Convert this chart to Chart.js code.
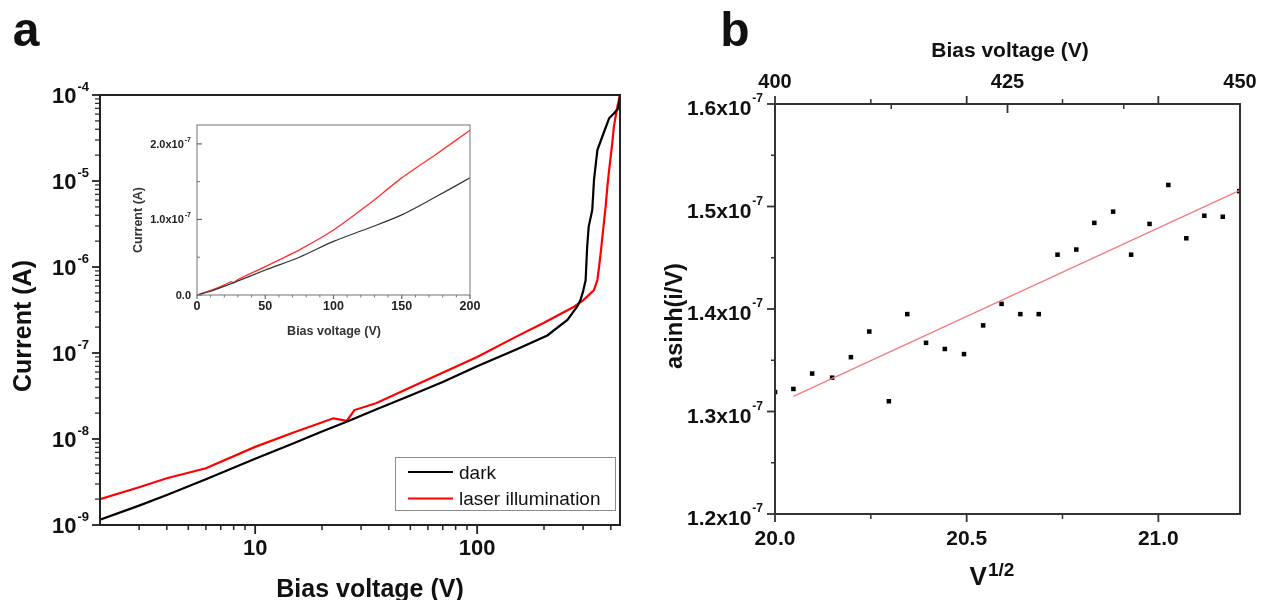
<!DOCTYPE html>
<html><head><meta charset="utf-8">
<script src="https://cdn.jsdelivr.net/npm/chart.js@4.4.0/dist/chart.umd.min.js"></script>
<style>
html,body{margin:0;padding:0;background:#fff;width:1271px;height:600px;overflow:hidden}
canvas{position:absolute;left:0;top:0}
</style></head><body>
<canvas id="ca" width="1271" height="600"></canvas>
<canvas id="ci" width="1271" height="600"></canvas>
<canvas id="cb" width="1271" height="600"></canvas>
<script>
// ---------------- DATA ----------------
// Panel a (log-log)
const darkV  = [2, 3, 4, 6, 10, 15, 20, 26, 35, 50, 70, 100, 150, 207, 255, 282, 292, 300, 308, 313, 318, 330, 336, 348, 366, 393, 413, 433, 440];
const darkI  = [1.15e-9, 1.68e-9, 2.23e-9, 3.4e-9, 5.9e-9, 9.0e-9, 1.22e-8, 1.6e-8, 2.2e-8, 3.2e-8, 4.6e-8, 7.0e-8, 1.1e-7, 1.6e-7, 2.42e-7, 3.45e-7, 4.13e-7, 5.2e-7, 7.0e-7, 1.72e-6, 2.95e-6, 4.6e-6, 1.03e-5, 2.29e-5, 3.27e-5, 5.36e-5, 6.1e-5, 7.0e-5, 1e-4];
const laserV = [2, 3, 4, 6, 10, 15, 22.5, 25.9, 28, 35, 55, 100, 150, 200, 273, 300, 324, 336, 348, 354, 360, 372, 379, 386, 393, 406, 413, 428, 440];
const laserI = [2.0e-9, 2.75e-9, 3.5e-9, 4.56e-9, 8.1e-9, 1.2e-8, 1.74e-8, 1.63e-8, 2.17e-8, 2.6e-8, 4.45e-8, 9.0e-8, 1.55e-7, 2.25e-7, 3.45e-7, 4.1e-7, 4.94e-7, 5.4e-7, 7.06e-7, 1.0e-6, 1.44e-6, 3.2e-6, 5.0e-6, 8.6e-6, 1.34e-5, 2.74e-5, 4.3e-5, 7.3e-5, 1e-4];
const seriesNames = ['dark', 'laser illumination'];
const aXTickValues = [10, 100];
const aXTickLabels = ['10', '100'];
const aXMinorTicks = [3, 4, 5, 6, 7, 8, 9, 20, 30, 40, 50, 60, 70, 80, 90, 200, 300, 400];
const aYTickExps = [-9, -8, -7, -6, -5, -4];
const aYMinorMult = [2, 3, 4, 5, 6, 7, 8, 9];

// Inset (linear)
const insetDarkV  = [0, 10, 25, 50, 75, 100, 125, 150, 175, 200];
const insetDarkI  = [0, 5e-9, 1.5e-8, 3.3e-8, 5.0e-8, 7.1e-8, 8.8e-8, 1.06e-7, 1.3e-7, 1.55e-7];
const insetLaserV = [0, 10, 20, 25, 27, 30, 50, 75, 100, 125, 150, 175, 200];
const insetLaserI = [0, 6e-9, 1.35e-8, 1.77e-8, 1.62e-8, 2.05e-8, 3.76e-8, 5.98e-8, 8.6e-8, 1.19e-7, 1.55e-7, 1.86e-7, 2.18e-7];
const inXTicks = [0, 50, 100, 150, 200];
const inXMinor = [10, 20, 30, 40, 60, 70, 80, 90, 110, 120, 130, 140, 160, 170, 180, 190];
const inYTicks = [0, 1e-7, 2e-7];
const inYTickLabels = [['0.0', ''], ['1.0x10', '-7'], ['2.0x10', '-7']];
const inYMinor = [0.5e-7, 1.5e-7];

// Panel b
const sqrtV  = [20.000, 20.048, 20.097, 20.149, 20.198, 20.246, 20.297, 20.345, 20.394, 20.443, 20.493, 20.543, 20.591, 20.640, 20.688, 20.737, 20.786, 20.833, 20.882, 20.929, 20.977, 21.026, 21.073, 21.120, 21.168, 21.211];
const asinhIV = [1.319e-7, 1.322e-7, 1.337e-7, 1.333e-7, 1.353e-7, 1.378e-7, 1.310e-7, 1.395e-7, 1.367e-7, 1.361e-7, 1.356e-7, 1.384e-7, 1.405e-7, 1.395e-7, 1.395e-7, 1.453e-7, 1.458e-7, 1.484e-7, 1.495e-7, 1.453e-7, 1.483e-7, 1.521e-7, 1.469e-7, 1.491e-7, 1.490e-7, 1.515e-7];
const fitX = [20.048, 21.211];
const fitY = [1.3147e-7, 1.5154e-7];
const bXTicks = [20.0, 20.5, 21.0];
const bXTickLabels = ['20.0', '20.5', '21.0'];
const bXMinor = [20.25, 20.75];
const bTopTicks = [400, 425, 450];
const bTopTickLabels = ['400', '425', '450'];
const bTopMinor = [412.5, 437.5];
const bYTicks = [1.2e-7, 1.3e-7, 1.4e-7, 1.5e-7, 1.6e-7];
const bYTickLabels = ['1.2x10', '1.3x10', '1.4x10', '1.5x10', '1.6x10'];
const bYMinor = [1.25e-7, 1.35e-7, 1.45e-7, 1.55e-7];

// ---------------- HELPERS ----------------
const FF = '"Liberation Sans", Arial, Helvetica, sans-serif';
const fnt = (s, b = true) => (b ? 'bold ' : '') + s + 'px ' + FF;
function ln(ctx, x1, y1, x2, y2, w, c) {
  ctx.beginPath(); ctx.moveTo(x1, y1); ctx.lineTo(x2, y2);
  ctx.lineWidth = w; ctx.strokeStyle = c; ctx.stroke();
}
function txt(ctx, s, x, y, size, align, o = {}) {
  ctx.save();
  ctx.font = fnt(size, o.bold !== false);
  ctx.fillStyle = o.color || '#111';
  ctx.textAlign = align || 'center';
  ctx.textBaseline = 'alphabetic';
  if (o.rotate) { ctx.translate(x, y); ctx.rotate(o.rotate); ctx.fillText(s, 0, 0); }
  else ctx.fillText(s, x, y);
  ctx.restore();
}
// base text + superscript; anchor = right edge (align 'right') or centre
function sup(ctx, base, sp, x, y, size, spSize, rise, align, color) {
  ctx.save();
  ctx.fillStyle = color || '#111';
  ctx.textBaseline = 'alphabetic'; ctx.textAlign = 'left';
  ctx.font = fnt(size); const wb = ctx.measureText(base).width;
  ctx.font = fnt(spSize); const ws = sp ? ctx.measureText(sp).width + 1 : 0;
  const x0 = align === 'center' ? x - (wb + ws) / 2 : x - wb - ws;
  ctx.font = fnt(size); ctx.fillText(base, x0, y);
  if (sp) { ctx.font = fnt(spSize); ctx.fillText(sp, x0 + wb + 1, y - rise); }
  ctx.restore();
}
const fixW = w => function (s) { s.width = w; };
const fixH = h => function (s) { s.height = h; };
const hidden = { ticks: { display: false }, grid: { display: false }, border: { display: false }, title: { display: false } };
const pts = (xs, ys) => xs.map((v, i) => ({ x: v, y: ys[i] }));

// ---------------- PANEL A ----------------
const panelA = {
  id: 'panelA',
  afterDraw(chart) {
    const { ctx, chartArea: a, scales: { x, y } } = chart;
    ctx.save();
    const C = '#222';
    ctx.lineWidth = 2; ctx.strokeStyle = C;
    ctx.strokeRect(a.left, a.top, a.right - a.left, a.bottom - a.top);
    aXMinorTicks.forEach(v => { const p = x.getPixelForValue(v); ln(ctx, p, a.bottom, p, a.bottom + 5, 1.5, C); });
    aXTickValues.forEach((v, i) => {
      const p = x.getPixelForValue(v);
      ln(ctx, p, a.bottom, p, a.bottom + 9, 1.8, C);
      txt(ctx, aXTickLabels[i], p, 555, 22, 'center');
    });
    aYTickExps.forEach(e => {
      const p = y.getPixelForValue(Math.pow(10, e));
      ln(ctx, a.left - 8, p, a.left, p, 1.8, C);
      sup(ctx, '10', String(e), 89, p + 8, 22, 13, 12.5, 'right');
      if (e < -4) aYMinorMult.forEach(m => {
        const q = y.getPixelForValue(m * Math.pow(10, e));
        ln(ctx, a.left - 5, q, a.left, q, 1.2, C);
      });
    });
    // axis titles
    txt(ctx, 'Bias voltage (V)', 370, 597, 25, 'center');
    txt(ctx, 'Current (A)', 31, 326, 25, 'center', { rotate: -Math.PI / 2 });
    txt(ctx, 'a', 26, 46, 48, 'center');
    // legend
    const lx = 395, ly = 457, lw = 220, lh = 53;
    ctx.fillStyle = '#fff'; ctx.fillRect(lx, ly, lw, lh);
    ctx.lineWidth = 1; ctx.strokeStyle = '#8c8c8c'; ctx.strokeRect(lx + 0.5, ly + 0.5, lw, lh);
    chart.data.datasets.forEach((d, i) => {
      const yy = 472 + i * 26.5;
      ln(ctx, 408, yy, 453, yy, 2, d.borderColor);
      txt(ctx, d.label, 459, yy + 6.5, 19, 'left', { bold: false, color: '#111' });
    });
    ctx.restore();
  }
};
new Chart(document.getElementById('ca'), {
  type: 'scatter',
  data: {
    datasets: [
      { label: seriesNames[0], data: pts(darkV, darkI), showLine: true, borderColor: '#000', borderWidth: 2.2, pointRadius: 0, tension: 0 },
      { label: seriesNames[1], data: pts(laserV, laserI), showLine: true, borderColor: '#ff0000', borderWidth: 2.2, pointRadius: 0, tension: 0 }
    ]
  },
  options: {
    responsive: false, animation: false, devicePixelRatio: 1,
    layout: { padding: { top: 95, right: 651, left: 0, bottom: 0 } },
    plugins: { legend: { display: false }, tooltip: { enabled: false } },
    scales: {
      x: Object.assign({ type: 'logarithmic', min: 2, max: 440, position: 'bottom', afterFit: fixH(75) }, hidden),
      y: Object.assign({ type: 'logarithmic', min: 1e-9, max: 1e-4, position: 'left', afterFit: fixW(100) }, hidden)
    }
  },
  plugins: [panelA]
});

// ---------------- INSET ----------------
const inset = {
  id: 'inset',
  afterDraw(chart) {
    const { ctx, chartArea: a, scales: { x, y } } = chart;
    ctx.save();
    const G = '#8a8a8a';
    ctx.lineWidth = 1.2; ctx.strokeStyle = G;
    ctx.strokeRect(a.left, a.top, a.right - a.left, a.bottom - a.top);
    inXMinor.forEach(v => { const p = x.getPixelForValue(v); ln(ctx, p, a.bottom, p, a.bottom + 2.5, 1, '#777'); });
    inXTicks.forEach(v => {
      const p = x.getPixelForValue(v);
      ln(ctx, p, a.bottom, p, a.bottom + 4, 1.2, '#666');
      txt(ctx, String(v), p, 310, 12.5, 'center', { color: '#222' });
    });
    inYMinor.forEach(v => { const p = y.getPixelForValue(v); ln(ctx, a.left, p, a.left + 3, p, 1, '#777'); });
    inYTicks.forEach((v, i) => {
      const p = y.getPixelForValue(v);
      ln(ctx, a.left, p, a.left + 5, p, 1.2, '#666');
      sup(ctx, inYTickLabels[i][0], inYTickLabels[i][1], 191, p + 4, 11, 7, 6, 'right', '#222');
    });
    txt(ctx, 'Bias voltage (V)', 334, 335, 12.5, 'center', { color: '#333' });
    txt(ctx, 'Current (A)', 141.5, 220, 12.5, 'center', { rotate: -Math.PI / 2, color: '#333' });
    ctx.restore();
  }
};
new Chart(document.getElementById('ci'), {
  type: 'scatter',
  data: {
    datasets: [
      { data: pts(insetDarkV, insetDarkI), showLine: true, borderColor: '#333', borderWidth: 1.2, pointRadius: 0, tension: 0.3 },
      { data: pts(insetLaserV, insetLaserI), showLine: true, borderColor: '#ff3030', borderWidth: 1.3, pointRadius: 0, tension: 0.2 }
    ]
  },
  options: {
    responsive: false, animation: false, devicePixelRatio: 1,
    layout: { padding: { top: 125, right: 801, left: 0, bottom: 0 } },
    plugins: { legend: { display: false }, tooltip: { enabled: false } },
    scales: {
      x: Object.assign({ type: 'linear', min: 0, max: 200, position: 'bottom', afterFit: fixH(305) }, hidden),
      y: Object.assign({ type: 'linear', min: 0, max: 2.25e-7, position: 'left', afterFit: fixW(197) }, hidden)
    }
  },
  plugins: [inset]
});

// ---------------- PANEL B ----------------
const panelB = {
  id: 'panelB',
  afterDraw(chart) {
    const { ctx, chartArea: a, scales: { x, x2, y } } = chart;
    ctx.save();
    const C = '#333';
    ctx.lineWidth = 2; ctx.strokeStyle = C;
    ctx.strokeRect(a.left, a.top, a.right - a.left, a.bottom - a.top);
    // bottom axis + mirrored ticks on top (outward)
    bXMinor.forEach(v => {
      const p = x.getPixelForValue(v);
      ln(ctx, p, a.bottom, p, a.bottom + 5, 1.5, C);
      ln(ctx, p, a.top, p, a.top - 5, 1.5, C);
    });
    bXTicks.forEach((v, i) => {
      const p = x.getPixelForValue(v);
      ln(ctx, p, a.bottom, p, a.bottom + 8, 1.8, C);
      ln(ctx, p, a.top, p, a.top - 8, 1.8, C);
      txt(ctx, bXTickLabels[i], p, 545, 21, 'center');
    });
    // top voltage axis (inward ticks)
    bTopMinor.forEach(v => { const p = x2.getPixelForValue(v); ln(ctx, p, a.top, p, a.top + 5, 1.5, C); });
    bTopTicks.forEach((v, i) => {
      const p = x2.getPixelForValue(v);
      ln(ctx, p, a.top, p, a.top + 9, 1.8, C);
      txt(ctx, bTopTickLabels[i], p, 88, 20, 'center');
    });
    // left axis
    bYMinor.forEach(v => { const p = y.getPixelForValue(v); ln(ctx, a.left - 4, p, a.left, p, 1.5, C); });
    bYTicks.forEach((v, i) => {
      const p = y.getPixelForValue(v);
      ln(ctx, a.left - 8, p, a.left, p, 1.8, C);
      sup(ctx, bYTickLabels[i], '-7', 763, p + 11, 21, 12, 13, 'right');
    });
    // titles
    txt(ctx, 'Bias voltage (V)', 1010, 57, 21, 'center');
    sup(ctx, 'V', '1/2', 992, 585, 26, 19, 9, 'center');
    txt(ctx, 'asinh(i/V)', 682, 316, 23.5, 'center', { rotate: -Math.PI / 2 });
    txt(ctx, 'b', 735, 46, 48, 'center');
    ctx.restore();
  }
};
new Chart(document.getElementById('cb'), {
  type: 'scatter',
  data: {
    datasets: [
      { data: pts(fitX, fitY), showLine: true, borderColor: '#f47c7c', borderWidth: 1.3, pointRadius: 0, clip: 0 },
      { data: pts(sqrtV, asinhIV), showLine: false, pointStyle: 'rect', pointRadius: 3.2, pointBorderWidth: 0, backgroundColor: '#000', borderColor: '#000', clip: 0 }
    ]
  },
  options: {
    responsive: false, animation: false, devicePixelRatio: 1,
    layout: { padding: { top: 0, right: 31, left: 0, bottom: 0 } },
    plugins: { legend: { display: false }, tooltip: { enabled: false } },
    scales: {
      x: Object.assign({ type: 'linear', min: 20, max: 21.213, position: 'bottom', afterFit: fixH(86) }, hidden),
      x2: Object.assign({ type: 'linear', min: 400, max: 450, position: 'top', afterFit: fixH(104) }, hidden),
      y: Object.assign({ type: 'linear', min: 1.2e-7, max: 1.6e-7, position: 'left', afterFit: fixW(775) }, hidden)
    }
  },
  plugins: [panelB]
});
</script>
</body></html>
